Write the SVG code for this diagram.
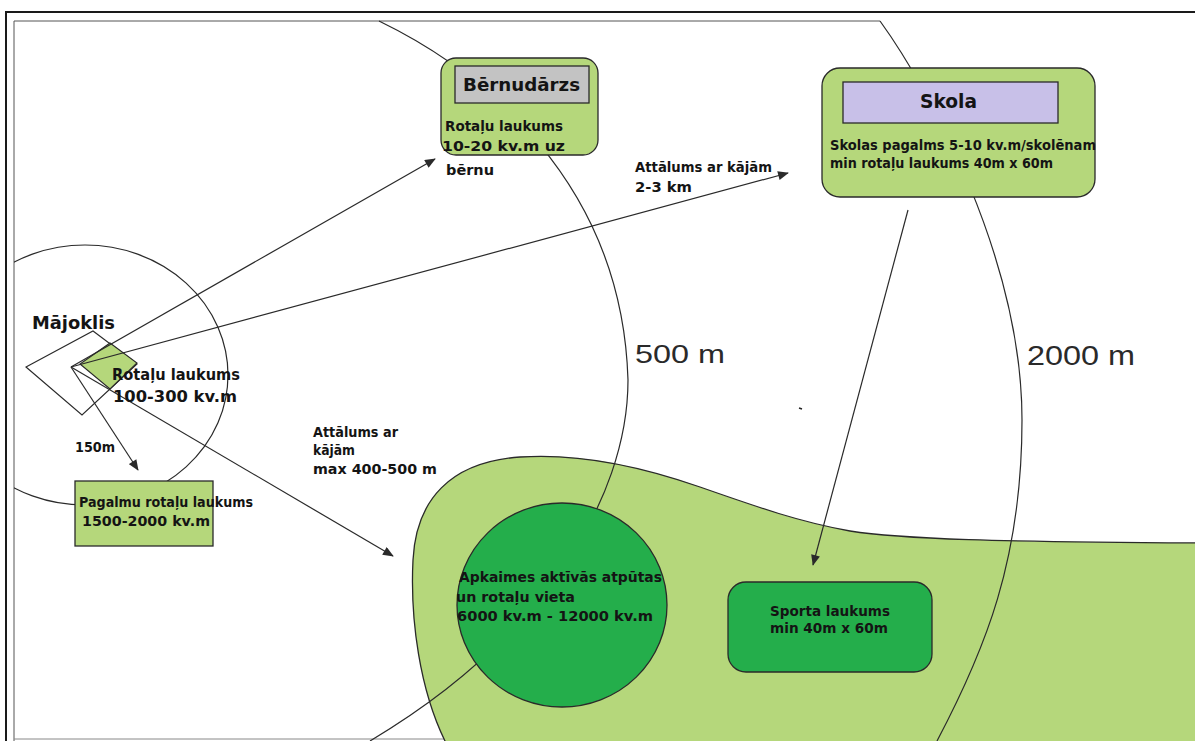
<svg xmlns="http://www.w3.org/2000/svg" width="1195" height="741" viewBox="0 0 1195 741">
<style>
  .t { font-family: "DejaVu Sans", "Liberation Sans", sans-serif; font-weight: bold; fill: #141414; }
  .big { font-family: "Liberation Sans", Arial, sans-serif; fill: #2a2a2a; }
  .ln { fill: none; stroke: #2a2a2a; stroke-width: 1.2; }
  .arr { fill: none; stroke: #2a2a2a; stroke-width: 1.2; marker-end: url(#ah); }
  .lg { fill: #b5d77b; stroke: #2a2a2a; stroke-width: 1.3; }
  .dg { fill: #24ae4b; stroke: #2a2a2a; stroke-width: 1.3; }
</style>
<defs>
  <marker id="ah" viewBox="0 0 12 10" refX="11" refY="5" markerWidth="12" markerHeight="9" markerUnits="userSpaceOnUse" orient="auto">
    <path d="M0,0 L12,5 L0,10 z" fill="#2a2a2a"/>
  </marker>
  <clipPath id="frameclip"><rect x="14" y="21" width="1181" height="720"/></clipPath>
</defs>
<rect x="0" y="0" width="1195" height="741" fill="#ffffff"/>

<g id="frame">
  <path d="M6,741 L6,12 L1195,12" fill="none" stroke="#1a1a1a" stroke-width="2"/>
  <path d="M14,741 L14,21 L880,21" fill="none" stroke="#555" stroke-width="1"/>
  <line x1="14" y1="739" x2="1195" y2="739" stroke="#888" stroke-width="1"/>
</g>

<g id="neighbourhood-area">
  <path class="lg" d="M445,741 C420,690 410,620 413,560 C416,500 450,462 520,457 C580,453 640,466 700,487 C760,508 800,522 850,531 C900,539 1000,542 1200,543 L1200,745 L445,745 Z"/>
</g>

<g id="radius-arcs">
  <path class="ln" d="M379,21 C480,70 622,180 628,380 C628,500 540,640 370,741"/>
  <path class="ln" d="M880,21 C930,90 1022,260 1022,420 C1022,560 985,650 937,741"/>
  <ellipse class="ln" clip-path="url(#frameclip)" cx="85" cy="375" rx="143" ry="130"/>
</g>

<g id="majoklis">
  <polygon points="26,367 93,331 137,364 82,415" fill="#ffffff" stroke="#2a2a2a" stroke-width="1.1"/>
  <polygon points="110,343 137,363 110,389 80,364" fill="#b5d77b" stroke="#2a2a2a" stroke-width="1.1"/>
</g>

<g id="connectors">
  <line class="arr" x1="71" y1="367" x2="435" y2="159"/>
  <line class="arr" x1="71" y1="367" x2="788" y2="173"/>
  <line class="arr" x1="71" y1="367" x2="138" y2="470"/>
  <line class="arr" x1="71" y1="367" x2="393" y2="556"/>
  <line class="arr" x1="908" y1="210" x2="813" y2="565"/>
  <line x1="799" y1="408" x2="802" y2="409" stroke="#222" stroke-width="1.5"/>
</g>

<g id="majoklis-labels">
  <text class="t" x="32" y="329" font-size="17" textLength="83" lengthAdjust="spacingAndGlyphs">Mājoklis</text>
  <text class="t" x="112" y="380" font-size="16" textLength="128" lengthAdjust="spacingAndGlyphs">Rotaļu laukums</text>
  <text class="t" x="113" y="402" font-size="16" textLength="124" lengthAdjust="spacingAndGlyphs">100-300 kv.m</text>
  <text class="t" x="75" y="452" font-size="14" textLength="40" lengthAdjust="spacingAndGlyphs">150m</text>
</g>

<g id="pagalmu">
  <rect class="lg" x="75" y="481" width="138" height="65"/>
  <text class="t" x="79" y="507" font-size="14" textLength="174" lengthAdjust="spacingAndGlyphs">Pagalmu rotaļu laukums</text>
  <text class="t" x="82" y="526" font-size="14" textLength="128" lengthAdjust="spacingAndGlyphs">1500-2000 kv.m</text>
</g>

<g id="walk-label-1">
  <text class="t" x="313" y="437" font-size="14" textLength="85" lengthAdjust="spacingAndGlyphs">Attālums ar</text>
  <text class="t" x="313" y="455" font-size="14" textLength="42" lengthAdjust="spacingAndGlyphs">kājām</text>
  <text class="t" x="313" y="474" font-size="14" textLength="124" lengthAdjust="spacingAndGlyphs">max 400-500 m</text>
</g>

<g id="walk-label-2">
  <text class="t" x="635" y="172" font-size="14" textLength="137" lengthAdjust="spacingAndGlyphs">Attālums ar kājām</text>
  <text class="t" x="635" y="192" font-size="14" textLength="57" lengthAdjust="spacingAndGlyphs">2-3 km</text>
</g>

<g id="radius-labels">
  <text class="big" x="635" y="363" font-size="25" textLength="90" lengthAdjust="spacingAndGlyphs">500 m</text>
  <text class="big" x="1027" y="365" font-size="27" textLength="108" lengthAdjust="spacingAndGlyphs">2000 m</text>
</g>

<g id="bernudarzs">
  <rect class="lg" x="441" y="58" width="157" height="97" rx="15"/>
  <rect x="455" y="66" width="134" height="37" fill="#c3c3c3" stroke="#2a2a2a" stroke-width="1.3"/>
  <text class="t" x="463" y="91" font-size="18" textLength="117" lengthAdjust="spacingAndGlyphs">Bērnudārzs</text>
  <text class="t" x="445" y="131" font-size="14.5" textLength="118" lengthAdjust="spacingAndGlyphs">Rotaļu laukums</text>
  <text class="t" x="442" y="151" font-size="14.5" textLength="123" lengthAdjust="spacingAndGlyphs">10-20 kv.m uz</text>
  <text class="t" x="446" y="175" font-size="14.5" textLength="48" lengthAdjust="spacingAndGlyphs">bērnu</text>
</g>

<g id="skola">
  <rect class="lg" x="822" y="68" width="273" height="129" rx="18"/>
  <rect x="843" y="82" width="215" height="41" fill="#c8c0e8" stroke="#2a2a2a" stroke-width="1.3"/>
  <text class="t" x="920" y="108" font-size="19" textLength="57" lengthAdjust="spacingAndGlyphs">Skola</text>
  <text class="t" x="830" y="150" font-size="14" textLength="266" lengthAdjust="spacingAndGlyphs">Skolas pagalms 5-10 kv.m/skolēnam</text>
  <text class="t" x="830" y="168" font-size="14" textLength="223" lengthAdjust="spacingAndGlyphs">min rotaļu laukums 40m x 60m</text>
</g>

<g id="apkaimes">
  <ellipse class="dg" cx="562" cy="605" rx="105" ry="102"/>
  <text class="t" x="459" y="582" font-size="14" textLength="203" lengthAdjust="spacingAndGlyphs">Apkaimes aktīvās atpūtas</text>
  <text class="t" x="456" y="602" font-size="14" textLength="119" lengthAdjust="spacingAndGlyphs">un rotaļu vieta</text>
  <text class="t" x="457" y="621" font-size="14" textLength="196" lengthAdjust="spacingAndGlyphs">6000 kv.m - 12000 kv.m</text>
</g>

<g id="sporta">
  <rect class="dg" x="728" y="582" width="204" height="90" rx="18"/>
  <text class="t" x="770" y="616" font-size="14" textLength="120" lengthAdjust="spacingAndGlyphs">Sporta laukums</text>
  <text class="t" x="770" y="633" font-size="14" textLength="118" lengthAdjust="spacingAndGlyphs">min 40m x 60m</text>
</g>
</svg>
